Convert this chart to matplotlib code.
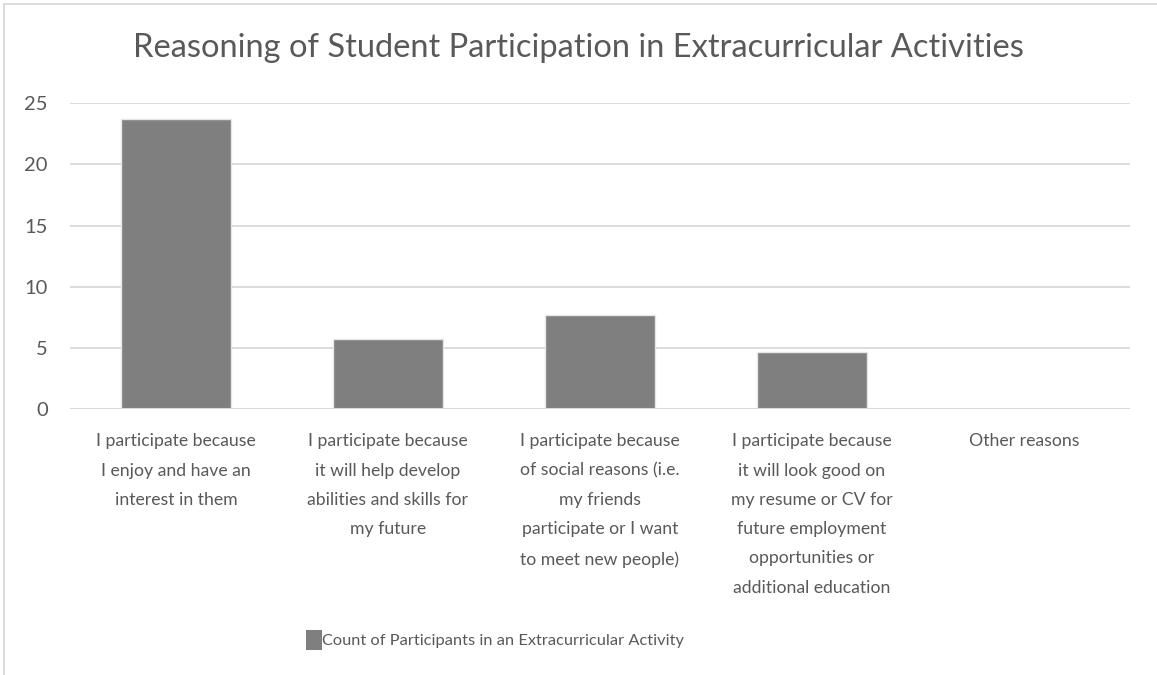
import matplotlib.pyplot as plt
from matplotlib.patches import Patch
from matplotlib.lines import Line2D

# Survey results
categories = [
    "I participate because\nI enjoy and have an\ninterest in them",
    "I participate because\nit will help develop\nabilities and skills for\nmy future",
    "I participate because\nof social reasons (i.e.\nmy friends\nparticipate or I want\nto meet new people)",
    "I participate because\nit will look good on\nmy resume or CV for\nfuture employment\nopportunities or\nadditional education",
    "Other reasons",
]
counts = [23.7, 5.7, 7.7, 4.7, 0]
yticks = [0, 5, 10, 15, 20, 25]

series_name = "Count of Participants in an Extracurricular Activity"
title = "Reasoning of Student Participation in Extracurricular Activities"

bar_color = "#7f7f7f"
text_color = "#595959"
grid_color = "#d9d9d9"

plt.rcParams['font.family'] = ['Lato', 'DejaVu Sans']

fig = plt.figure(figsize=(11.57, 6.75), dpi=100)
ax = fig.add_axes([0.0605, 0.394, 0.916, 0.453])

x = range(len(categories))
ax.bar(x, counts, width=0.52, color=bar_color, edgecolor="#e6e6e6",
       linewidth=1, zorder=2)

ax.set_xlim(-0.5, len(categories) - 0.5)
ax.set_ylim(0, 25)
ax.set_yticks(yticks)
ax.yaxis.grid(True, color=grid_color, linewidth=1.3, zorder=0)
ax.set_axisbelow(True)
ax.axhline(0, color=grid_color, linewidth=1.5, zorder=3)

for s in ax.spines.values():
    s.set_visible(False)

ax.set_xticks(list(x))
ax.set_xticklabels(categories, fontsize=12.7, color=text_color,
                   linespacing=2.02, va="top")
ax.tick_params(axis="x", length=0, pad=17.5)
ax.tick_params(axis="y", length=0, pad=16, labelsize=14.5, labelcolor=text_color)

fig.text(0.5, 0.929, title, ha="center", va="center", fontsize=23.5,
         color=text_color)

handle = Patch(facecolor=bar_color, edgecolor="none")
fig.legend([handle], [series_name], loc="center", bbox_to_anchor=(0.428, 0.052),
           frameon=False, fontsize=11.75, labelcolor=text_color,
           handlelength=0.95, handleheight=1.5, handletextpad=0.05)

# outer chart frame (top and left edges visible)
fig.add_artist(Line2D([0.0035, 1.0], [0.994, 0.994], transform=fig.transFigure,
                      color=grid_color, linewidth=1.3))
fig.add_artist(Line2D([0.0035, 0.0035], [0.0, 0.994], transform=fig.transFigure,
                      color=grid_color, linewidth=1.3))

fig.savefig("out.png", dpi=100)
